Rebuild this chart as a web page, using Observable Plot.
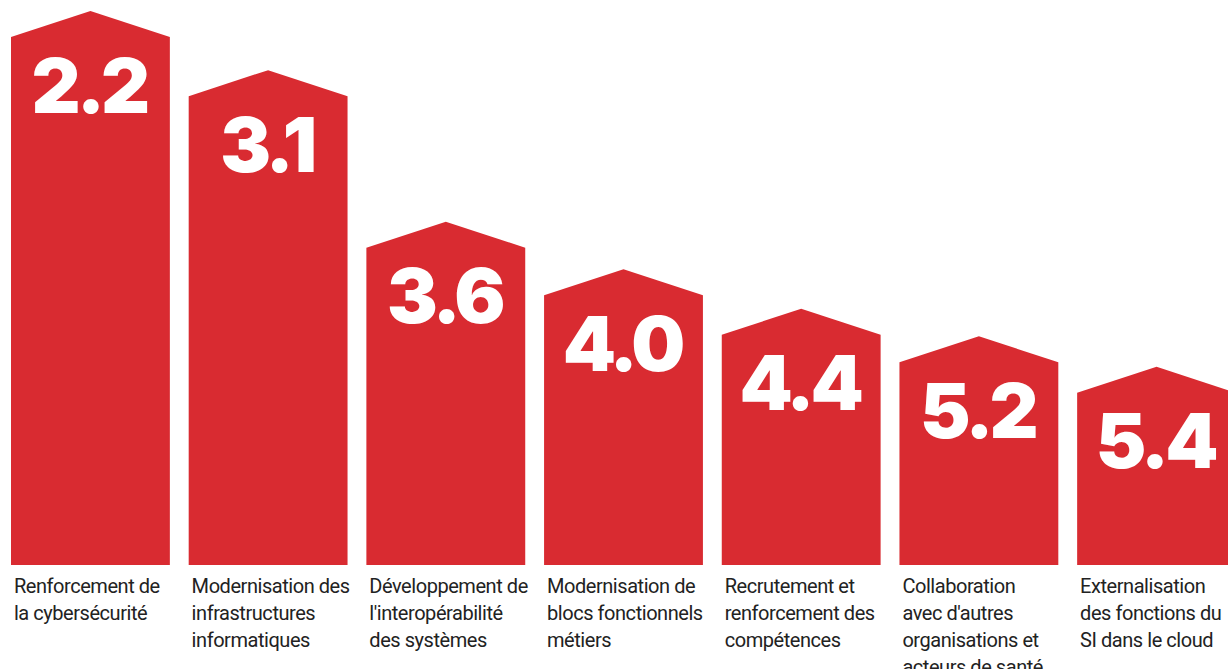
<!DOCTYPE html>
<html>
<head>
<meta charset="utf-8">
<script src="https://cdn.jsdelivr.net/npm/d3@7"></script>
<script src="https://cdn.jsdelivr.net/npm/@observablehq/plot@0.6"></script>
<style>
  html, body { margin: 0; padding: 0; background: #fff; overflow: hidden; }
  g[font-family="Roboto"] { letter-spacing: -0.45px; }
  g[font-family="Inter"] text { letter-spacing: -4px; }
</style>
</head>
<body>
<div id="chart"></div>
<script>
// Chantiers prioritaires (rang moyen : plus petit = plus prioritaire)
const categories = [
  "Renforcement de\nla cybersécurité",
  "Modernisation des\ninfrastructures\ninformatiques",
  "Développement de\nl'interopérabilité\ndes systèmes",
  "Modernisation de\nblocs fonctionnels\nmétiers",
  "Recrutement et\nrenforcement des\ncompétences",
  "Collaboration\navec d'autres\norganisations et\nacteurs de santé",
  "Externalisation\ndes fonctions du\nSI dans le cloud"
];
// Rang moyen affiché
const rangs = [2.2, 3.1, 3.6, 4.0, 4.4, 5.2, 5.4];
// Hauteur relative des maisons (indice, 100 = la plus haute)
const hauteurs = [100, 88.8, 60.1, 51.1, 43.6, 38.4, 32.6];

const data = categories.map((c, i) => ({categorie: c, rang: rangs[i], hauteur: hauteurs[i]}));

const RED = "#d92b31";
const ROOF = 26;

// barY rendered as a house: rectangle + triangular roof
function house(index, scales, values, dimensions, context, next) {
  const g = next(index, scales, values, dimensions, context);
  const ns = "http://www.w3.org/2000/svg";
  for (const rect of Array.from(g.querySelectorAll("rect"))) {
    const x = +rect.getAttribute("x"), w = +rect.getAttribute("width");
    const y = +rect.getAttribute("y"), h = +rect.getAttribute("height");
    const p = document.createElementNS(ns, "path");
    p.setAttribute("d", `M${x},${y + h}L${x},${y}L${x + w / 2},${y - ROOF}L${x + w},${y}L${x + w},${y + h}Z`);
    p.setAttribute("fill", rect.getAttribute("fill") || RED);
    rect.replaceWith(p);
  }
  return g;
}

const chart = Plot.plot({
  width: 1228,
  height: 669,
  margin: 0,
  x: {domain: categories, range: [11, 1236], paddingInner: 0.106, paddingOuter: 0, round: false, axis: null},
  y: {domain: [0, 100], range: [565, 37], axis: null},
  marks: [
    Plot.barY(data, {x: "categorie", y: "hauteur", fill: RED, render: house}),
    Plot.text(data, {
      x: "categorie", y: "hauteur",
      text: d => d.rang.toFixed(1),
      fill: "white", fontSize: 76, fontWeight: 900,
      fontFamily: "Inter", lineAnchor: "bottom", dy: 75, dx: -2, textAnchor: "middle"
    }),
    Plot.text(data, {
      x: "categorie", y: () => 0,
      text: "categorie",
      fill: "#222", fontSize: 20, fontFamily: "Roboto",
      textAnchor: "start", lineAnchor: "top", lineHeight: 1.35,
      dx: -77, dy: 8
    })
  ]
});
document.getElementById("chart").appendChild(chart);
</script>
</body>
</html>
